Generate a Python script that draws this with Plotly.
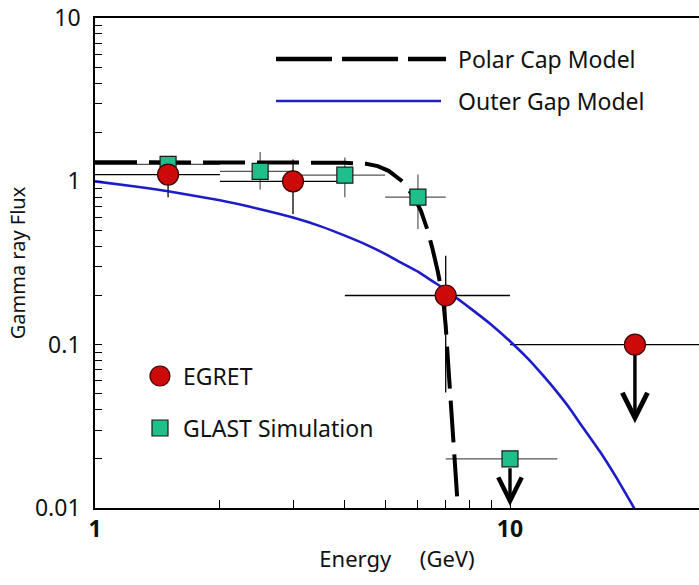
import numpy as np
import plotly.graph_objects as go

# ---------------- data ----------------
# EGRET measurements (GeV, flux); last point is an upper limit
egret_x = [1.5, 3.0, 7.0, 20.0]
egret_y = [1.10, 1.00, 0.20, 0.10]
egret_x_lo = [1.0, 2.0, 4.0, 10.0]
egret_x_hi = [2.0, 4.0, 10.0, 40.0]
egret_y_lo = [0.80, 0.63, 0.051, 0.10]
egret_y_hi = [1.40, 1.36, 0.35, 0.10]
egret_limit_to = 0.033

# GLAST simulation points; last point is an upper limit
glast_x = [1.5, 2.5, 4.0, 6.0, 10.0]
glast_y = [1.27, 1.15, 1.09, 0.80, 0.020]
glast_x_lo = [1.0, 2.0, 3.0, 5.0, 7.0]
glast_x_hi = [2.0, 3.0, 5.0, 7.0, 13.0]
glast_y_lo = [1.18, 0.89, 0.80, 0.51, 0.020]
glast_y_hi = [1.36, 1.51, 1.40, 1.10, 0.020]
glast_limit_to = 0.0103

# Polar cap model curve
pc_x = [1.0, 2.0, 3.0, 4.0, 4.5, 4.8, 5.1, 5.3, 5.5, 5.7, 5.9, 6.1, 6.3, 6.5, 6.7,
        6.9, 7.0, 7.1, 7.2, 7.3, 7.4, 7.5]
pc_y = [1.31, 1.31, 1.31, 1.30, 1.28, 1.24, 1.16, 1.08, 1.00, 0.89, 0.78, 0.66, 0.52,
        0.39, 0.28, 0.19, 0.13, 0.075, 0.045, 0.027, 0.016, 0.0095]

# Outer gap model curve
og_x = [1.0, 1.25, 1.5, 2.0, 2.5, 3.0, 3.5, 4.0, 4.5, 5.0, 5.5, 6.0, 6.5, 7.0, 7.5,
        8.0, 9.0, 10.0, 11.0, 12.0, 13.0, 14.0, 15.0, 16.5, 18.0, 20.0]
og_y = [1.00, 0.93, 0.87, 0.765, 0.675, 0.60, 0.53, 0.465, 0.41, 0.36, 0.315, 0.28,
        0.245, 0.217, 0.19, 0.168, 0.133, 0.105, 0.083, 0.065, 0.051, 0.040, 0.031,
        0.022, 0.0155, 0.0098]

# ---------------- geometry helpers ----------------
W, H = 699, 585
L, R, T, B = 95, 0, 18, 77
PW, PH = W - L - R, H - T - B
X_DECADE = 415.0
x_max_log = PW / X_DECADE

def px(xp):
    return (xp - L) / PW

def py(yp):
    return (H - B - yp) / PH

FONT = "Noto Sans, Open Sans, sans-serif"
RED = "#cc0a0a"
TEAL = "#1fbf8c"
BLUE = "#1c1cc8"

fig = go.Figure()

def minus(v, lo):
    return [a - b for a, b in zip(v, lo)]

def plus(v, hi):
    return [b - a for a, b in zip(v, hi)]

# GLAST error bars (grey)
fig.add_trace(go.Scatter(
    x=glast_x, y=glast_y, mode="markers",
    marker=dict(size=0.1, color="rgba(0,0,0,0)"),
    error_x=dict(type="data", symmetric=False, array=plus(glast_x, glast_x_hi),
                 arrayminus=minus(glast_x, glast_x_lo), color="#555555", thickness=1.2, width=0),
    error_y=dict(type="data", symmetric=False, array=plus(glast_y, glast_y_hi),
                 arrayminus=minus(glast_y, glast_y_lo), color="#555555", thickness=1.2, width=0),
    showlegend=False, hoverinfo="skip"))

# EGRET error bars (black)
fig.add_trace(go.Scatter(
    x=egret_x, y=egret_y, mode="markers",
    marker=dict(size=0.1, color="rgba(0,0,0,0)"),
    error_x=dict(type="data", symmetric=False, array=plus(egret_x, egret_x_hi),
                 arrayminus=minus(egret_x, egret_x_lo), color="#000000", thickness=1.3, width=0),
    error_y=dict(type="data", symmetric=False, array=plus(egret_y, egret_y_hi),
                 arrayminus=minus(egret_y, egret_y_lo), color="#000000", thickness=1.3, width=0),
    showlegend=False, hoverinfo="skip"))

# Model curves
fig.add_trace(go.Scatter(x=og_x, y=og_y, mode="lines",
                         line=dict(color=BLUE, width=2.6, shape="spline", smoothing=0.4),
                         showlegend=False))
fig.add_trace(go.Scatter(x=pc_x, y=pc_y, mode="lines",
                         line=dict(color="#000000", width=4, dash="42px,12px"),
                         showlegend=False))

# Markers
fig.add_trace(go.Scatter(x=glast_x, y=glast_y, mode="markers",
                         marker=dict(symbol="square", size=16, color=TEAL,
                                     line=dict(color="#1a1a1a", width=1.2)),
                         showlegend=False))
fig.add_trace(go.Scatter(x=egret_x, y=egret_y, mode="markers",
                         marker=dict(symbol="circle", size=21, color=RED,
                                     line=dict(color="#3a0000", width=1.2)),
                         showlegend=False))

# Upper-limit arrows
annotations = []
annotations.append(dict(x=np.log10(egret_x[-1]), y=np.log10(egret_limit_to),
                        ax=np.log10(egret_x[-1]), ay=np.log10(egret_y[-1]),
                        xref="x", yref="y", axref="x", ayref="y",
                        showarrow=True, arrowhead=5, arrowwidth=3.4, arrowsize=1.45,
                        arrowcolor="#000000", startstandoff=9, text=""))
annotations.append(dict(x=np.log10(glast_x[-1]), y=np.log10(glast_limit_to),
                        ax=np.log10(glast_x[-1]), ay=np.log10(glast_y[-1]),
                        xref="x", yref="y", axref="x", ayref="y",
                        showarrow=True, arrowhead=5, arrowwidth=3.4, arrowsize=1.35,
                        arrowcolor="#000000", startstandoff=8, text=""))

# Legend text
leg_font = dict(family=FONT, size=23, color="#111111")
for txt, xx, yy in [("Polar Cap Model", 456, 59), ("Outer Gap Model", 456, 101),
                    ("EGRET", 181, 376), ("GLAST Simulation", 181, 428)]:
    annotations.append(dict(x=px(xx), y=py(yy), xref="paper", yref="paper",
                            text=txt, showarrow=False, xanchor="left", yanchor="middle",
                            font=leg_font))

shapes = [
    dict(type="line", xref="paper", yref="paper", x0=px(276), x1=px(446), y0=py(59), y1=py(59),
         line=dict(color="#000000", width=4.5, dash="56px,10px")),
    dict(type="line", xref="paper", yref="paper", x0=px(276), x1=px(441), y0=py(101), y1=py(101),
         line=dict(color=BLUE, width=2.6)),
    dict(type="circle", xref="paper", yref="paper",
         x0=px(150), x1=px(170), y0=py(386), y1=py(366),
         fillcolor=RED, line=dict(color="#3a0000", width=1.2)),
    dict(type="rect", xref="paper", yref="paper",
         x0=px(152), x1=px(168), y0=py(436), y1=py(420),
         fillcolor=TEAL, line=dict(color="#1a1a1a", width=1.2)),
]

x_tickvals = [1, 2, 3, 4, 5, 6, 7, 8, 9, 10]
x_ticktext = ["<b>1</b>"] + [""] * 8 + ["<b>10</b>"]
y_tickvals = []
for dec in [0.01, 0.1, 1]:
    for m in range(1, 10):
        y_tickvals.append(round(dec * m, 6))
y_tickvals.append(10)
y_ticktext = ["0.01" if v == 0.01 else "0.1" if v == 0.1 else "1" if v == 1 else "10" if v == 10 else ""
              for v in y_tickvals]

fig.update_layout(
    width=W, height=H,
    margin=dict(l=L, r=R, t=T, b=B, pad=0, autoexpand=False),
    paper_bgcolor="white", plot_bgcolor="white",
    showlegend=False,
    annotations=annotations,
    shapes=shapes,
    xaxis=dict(type="log", range=[0, x_max_log], showgrid=False, zeroline=False,
               automargin=False,
               showline=True, linecolor="#000000", linewidth=1.6, mirror=True,
               tickvals=x_tickvals, ticktext=x_ticktext, ticks="inside", ticklen=8,
               tickwidth=1.2, tickcolor="#000000",
               tickfont=dict(family=FONT, size=23, color="#111111"),
               title=dict(text="Energy\u00a0\u00a0\u00a0\u00a0\u00a0(GeV)", standoff=8,
                          font=dict(family=FONT, size=22, color="#111111"))),
    xaxis2=dict(type="log", range=[0, x_max_log], overlaying="x", side="top",
                automargin=False,
                showgrid=False, zeroline=False, showline=False,
                tickvals=[20], ticktext=[""], ticks="inside", ticklen=6,
                tickwidth=1.2, tickcolor="#000000"),
    yaxis=dict(type="log", range=[-2, 1], showgrid=False, zeroline=False,
               automargin=False,
               showline=True, linecolor="#000000", linewidth=1.6, mirror=False,
               tickvals=y_tickvals, ticktext=y_ticktext, ticks="inside", ticklen=7,
               tickwidth=1.2, tickcolor="#000000", ticklabelstandoff=8,
               tickfont=dict(family=FONT, size=23, color="#111111"),
               title=dict(text="Gamma ray Flux", standoff=4,
                          font=dict(family=FONT, size=20, color="#111111"))),
)

fig.write_html("out.html", config={"displayModeBar": False},
               post_script="document.body.style.margin='0';")
